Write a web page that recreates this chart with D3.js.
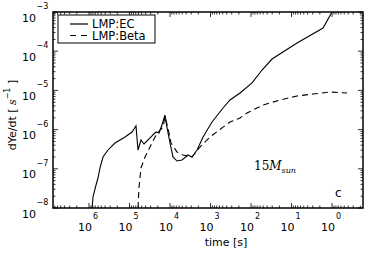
<!DOCTYPE html>
<html>
<head>
<meta charset="utf-8">
<script src="https://cdn.jsdelivr.net/npm/d3@7"></script>
<style>
body { margin: 0; background: #fff; }
text { font-family: "DejaVu Sans", sans-serif; fill: #000; }
</style>
</head>
<body>
<svg id="chart" width="374" height="253"></svg>
<script>
// LMP:EC rate, time before bounce [s] vs dYe/dt [1/s]
var ecTime = [8.4e5, 7.96e5, 6.71e5, 6.0e5, 5.35e5, 4.51e5, 3.4e5, 2.28e5, 1.29e5, 8.67e4,
              6.92e4, 6.17e4, 5.2e4, 4.38e4, 3.12e4, 2.22e4, 1.87e4, 1.58e4, 1.33e4, 1.19e4,
              1.0e4, 8.43e3, 6.72e3, 5.06e3, 3.6e3, 2.86e3, 2.15e3, 1.53e3, 919, 491,
              330, 187, 94.4, 53.5, 30.3, 7.31, 1.67, 1.0, 0.8];
var ecRate = [1e-8, 1.91e-8, 3.86e-8, 5.82e-8, 1.05e-7, 2.0e-7, 3.02e-7, 4.55e-7, 6.47e-7, 8.69e-7,
              1.24e-6, 3.02e-7, 5.43e-7, 4.29e-7, 6.11e-7, 8.69e-7, 8.19e-7, 1.31e-6, 2.36e-6, 1.16e-6,
              4.55e-7, 2.0e-7, 1.58e-7, 1.68e-7, 2.25e-7, 2.0e-7, 3.02e-7, 6.47e-7, 1.56e-6, 3.56e-6,
              5.69e-6, 8.59e-6, 1.55e-5, 3.31e-5, 6.32e-5, 1.62e-4, 3.91e-4, 1.0e-3, 1.4e-3];

// LMP:Beta rate
var betaTime = [6.17e4, 5.82e4, 5.2e4, 4.14e4, 3.12e4, 2.34e4, 1.77e4, 1.49e4, 1.33e4, 1.12e4,
                9.44e3, 6.72e3, 4.78e3, 2.86e3, 1.82e3, 1.03e3, 491, 330, 187, 126,
                50.6, 19.2, 7.31, 2.94, 1.12, 0.427];
var betaRate = [1e-8, 3.44e-8, 1.05e-7, 2.0e-7, 3.6e-7, 6.47e-7, 9.77e-7, 1.16e-6, 2.09e-6, 1.1e-6,
                4.55e-7, 2.69e-7, 2.25e-7, 2.0e-7, 3.6e-7, 6.47e-7, 1.16e-6, 1.56e-6, 1.98e-6, 2.65e-6,
                4.25e-6, 5.69e-6, 7.19e-6, 8.09e-6, 9.1e-6, 8.59e-6];

var xMajor = [6, 5, 4, 3, 2, 1, 0];
var yMajor = [-3, -4, -5, -6, -7, -8];
var legendLabels = ['LMP:EC', 'LMP:Beta'];

var pLeft = 53, pRight = 363, pTop = 12, pBottom = 208;

var svg = d3.select('#chart');

var x = d3.scaleLog().domain([7.74e6, 0.172]).range([pLeft, pRight]);
var y = d3.scaleLog().domain([1e-8, 1e-3]).range([pBottom, pTop]);

svg.append('clipPath').attr('id', 'plotclip')
   .append('rect').attr('x', pLeft).attr('y', pTop)
   .attr('width', pRight - pLeft).attr('height', pBottom - pTop);

// Data lines
var line = d3.line().x((d) => x(d[0])).y((d) => y(d[1]));
var ecData = ecTime.map((t, i) => [t, ecRate[i]]);
var betaData = betaTime.map((t, i) => [t, betaRate[i]]);

var plot = svg.append('g').attr('clip-path', 'url(#plotclip)');
plot.append('path').datum(ecData)
    .attr('d', line).attr('fill', 'none')
    .attr('stroke', '#000').attr('stroke-width', 1.1);
plot.append('path').datum(betaData)
    .attr('d', line).attr('fill', 'none')
    .attr('stroke', '#000').attr('stroke-width', 1.1)
    .attr('stroke-dasharray', '6,4');

// Ticks (inward, on all four sides)
var ticks = svg.append('g').attr('stroke', '#000').attr('stroke-width', 0.8);
function minorsOf(lo, hi, dom) {
    var out = [];
    for (var k = lo; k <= hi; k++)
        for (var m = 2; m <= 9; m++) {
            var v = m * Math.pow(10, k);
            if (v > Math.min(dom[0], dom[1]) && v < Math.max(dom[0], dom[1]))
                out.push(v);
        }
    return out;
}
var xMinor = minorsOf(-1, 6, x.domain());
var yMinor = minorsOf(-8, -4, y.domain());

xMajor.forEach(function(e) {
    var px = x(Math.pow(10, e));
    ticks.append('line').attr('x1', px).attr('x2', px).attr('y1', pBottom).attr('y2', pBottom - 5);
    ticks.append('line').attr('x1', px).attr('x2', px).attr('y1', pTop).attr('y2', pTop + 5);
});
xMinor.forEach(function(v) {
    var px = x(v);
    ticks.append('line').attr('x1', px).attr('x2', px).attr('y1', pBottom).attr('y2', pBottom - 2.5);
    ticks.append('line').attr('x1', px).attr('x2', px).attr('y1', pTop).attr('y2', pTop + 2.5);
});
yMajor.forEach(function(e) {
    var py = y(Math.pow(10, e));
    ticks.append('line').attr('x1', pLeft).attr('x2', pLeft + 5).attr('y1', py).attr('y2', py);
    ticks.append('line').attr('x1', pRight).attr('x2', pRight - 5).attr('y1', py).attr('y2', py);
});
yMinor.forEach(function(v) {
    var py = y(v);
    ticks.append('line').attr('x1', pLeft).attr('x2', pLeft + 2.5).attr('y1', py).attr('y2', py);
    ticks.append('line').attr('x1', pRight).attr('x2', pRight - 2.5).attr('y1', py).attr('y2', py);
});

// Frame
svg.append('rect').attr('x', pLeft).attr('y', pTop)
   .attr('width', pRight - pLeft).attr('height', pBottom - pTop)
   .attr('fill', 'none').attr('stroke', '#000').attr('stroke-width', 1.5);

// Tick labels
xMajor.forEach(function(e) {
    var px = x(Math.pow(10, e));
    svg.append('text').attr('x', px + 3).attr('y', 230.5)
       .attr('text-anchor', 'end').attr('font-size', 11).text('10');
    svg.append('text').attr('x', px + 4).attr('y', 219)
       .attr('font-size', 8).text(String(e));
});
yMajor.forEach(function(e) {
    var py = y(Math.pow(10, e));
    svg.append('text').attr('x', 36).attr('y', py + 9.5)
       .attr('text-anchor', 'end').attr('font-size', 11).text('10');
    svg.append('text').attr('x', 36.5).attr('y', py - 3)
       .attr('font-size', 8).text('\u2212' + Math.abs(e));
});

// Axis labels
svg.append('text').attr('x', 226).attr('y', 246)
   .attr('text-anchor', 'middle').attr('font-size', 11).text('time [s]');

var ylab = svg.append('text')
   .attr('transform', 'translate(16,115) rotate(-90)')
   .attr('text-anchor', 'middle').attr('font-size', 11);
ylab.append('tspan').text('dYe/dt [ ');
ylab.append('tspan').attr('font-style', 'italic').attr('font-family', 'DejaVu Serif').text('s');
ylab.append('tspan').attr('font-size', 8).attr('dy', -6).text('\u22121');
ylab.append('tspan').attr('dy', 6).text(' ]');

// Legend
var legend = svg.append('g');
legend.append('rect').attr('x', 58).attr('y', 15).attr('width', 97).attr('height', 28)
      .attr('fill', '#fff').attr('stroke', '#000').attr('stroke-width', 1);
legendLabels.forEach(function(lab, i) {
    var ly = 24 + i * 11.5;
    legend.append('line').attr('x1', 70).attr('x2', 88).attr('y1', ly).attr('y2', ly)
          .attr('stroke', '#000').attr('stroke-width', 1.2)
          .attr('stroke-dasharray', i === 1 ? '6,5' : null);
    legend.append('text').attr('x', 92).attr('y', ly + 4.2)
          .attr('font-size', 11.5).text(lab);
});

// Annotations
var mass = svg.append('text').attr('x', 254).attr('y', 169.5)
   .attr('font-size', 12).style('font-family', '"DejaVu Serif", serif');
mass.append('tspan').text('15');
mass.append('tspan').attr('font-style', 'italic').text('M');
mass.append('tspan').attr('font-style', 'italic').attr('font-size', 8).attr('dy', 3).text('sun');

svg.append('text').attr('x', 335).attr('y', 197).attr('font-size', 12).text('c');
</script>
</body>
</html>
